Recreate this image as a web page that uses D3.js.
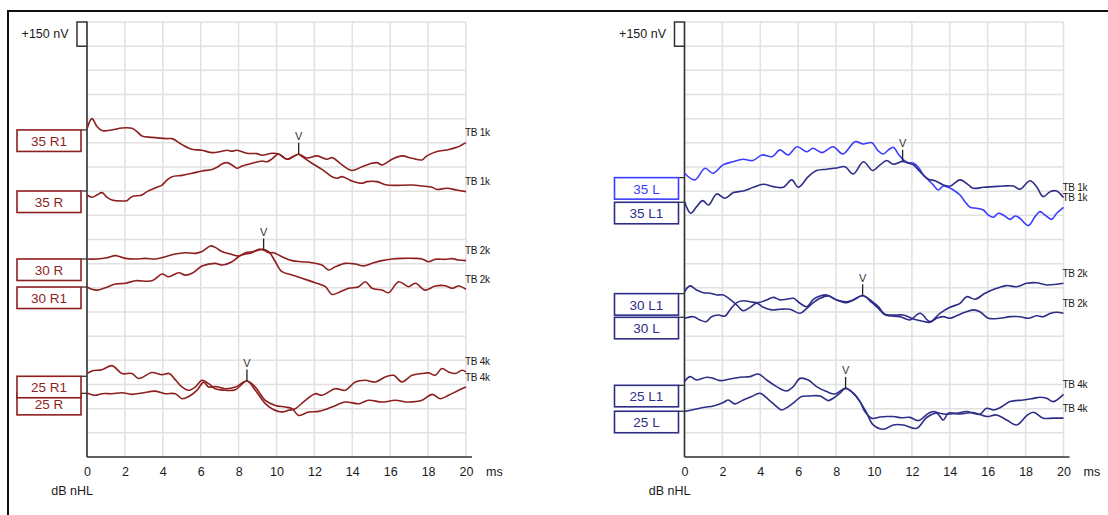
<!DOCTYPE html>
<html>
<head>
<meta charset="utf-8">
<script src="https://cdn.jsdelivr.net/npm/d3@7"></script>
<style>
  body { margin: 0; background: #fff; }
  svg { display: block; }
  text { font-family: "Liberation Sans", Arial, sans-serif; }
</style>
</head>
<body>
<svg id="chart" width="1108" height="515"></svg>
<script>
// ---- ABR recordings: latency (ms) vs amplitude (nV) ----
const xTicks = [0, 2, 4, 6, 8, 10, 12, 14, 16, 18, 20];
const gridStepNv = 150;
const fullScaleNv = 2700;
const scaleBarLabel = "+150 nV";
const xUnit = "ms";
const yUnit = "dB nHL";

// Right ear (each wave: [latency ms, amplitude nV] relative to its own trace offset)
const wave35R1 = [[0,6],[0.26,70],[0.53,21],[0.79,-4],[1.32,0],[1.85,12],[2.37,10],[2.64,-10],[2.9,-37],[3.43,-46],[4.22,-54],[4.49,-54],[5.01,-91],[5.54,-120],[6.07,-126],[6.6,-141],[7.12,-132],[7.39,-126],[7.65,-132],[7.92,-126],[8.44,-145],[8.97,-147],[9.24,-157],[9.76,-145],[10.11,-149],[10.55,-182],[11.17,-151],[11.6,-174],[12.14,-161],[12.67,-182],[12.93,-172],[13.46,-217],[13.98,-252],[14.51,-228],[15.04,-207],[15.3,-203],[15.57,-217],[16.1,-182],[16.62,-161],[17.15,-176],[17.68,-186],[17.94,-161],[18.47,-134],[18.99,-124],[19.52,-108],[20,-79]];
const wave35R = [[0,-25],[0.26,-39],[0.53,-25],[0.79,-10],[1.06,-39],[1.32,-56],[1.85,-62],[2.11,-60],[2.37,-35],[2.9,-25],[3.17,-4],[3.69,23],[3.96,37],[4.22,68],[4.49,89],[5.01,97],[5.54,110],[6.07,124],[6.6,134],[6.86,147],[7.12,168],[7.39,176],[7.65,161],[7.92,141],[8.18,155],[8.71,172],[9.24,186],[9.5,182],[9.76,199],[10.11,230],[10.55,197],[11.17,228],[11.35,213],[11.87,172],[12.4,134],[12.93,89],[13.2,79],[13.46,89],[13.98,62],[14.51,48],[14.78,58],[15.3,58],[15.83,37],[17.15,37],[17.68,31],[18.21,23],[18.47,10],[18.99,17],[19.52,6],[20,-4]];
const wave30R = [[0,0],[0.53,0],[1.06,8],[1.5,21],[2.02,4],[2.55,0],[3.08,4],[3.61,0],[4.13,14],[4.66,31],[5.19,39],[5.72,35],[6.07,46],[6.51,81],[6.77,72],[7.12,46],[7.56,31],[8.0,19],[8.36,31],[8.62,35],[9.06,60],[9.32,56],[9.59,39],[9.85,39],[10.29,14],[10.82,-10],[11.35,-17],[11.87,-23],[12.4,-37],[12.75,-68],[13.1,-48],[13.63,-27],[14.16,-31],[14.6,-43],[15.04,-27],[15.57,-10],[16.1,0],[16.62,4],[17.33,4],[17.68,0],[18.03,-17],[18.38,-2],[18.91,-2],[19.26,2],[19.61,-6],[20,-10]];
const wave30R1 = [[0,0],[0.26,-14],[0.53,-19],[0.97,-4],[1.5,19],[2.02,23],[2.55,39],[3.43,39],[3.96,81],[4.31,64],[4.84,89],[5.19,74],[5.54,85],[6.07,130],[6.77,147],[7.12,137],[7.65,157],[8.0,188],[8.36,213],[8.8,220],[9.24,234],[9.59,220],[9.94,157],[10.29,95],[10.82,75],[11.35,54],[12.05,27],[12.58,2],[12.93,-46],[13.37,-29],[13.81,-8],[14.34,2],[14.69,33],[15.04,-8],[15.57,-19],[15.92,-35],[16.45,33],[16.97,2],[17.33,23],[17.85,-19],[18.38,6],[18.91,8],[19.26,-8],[19.61,6],[20,-14]];
const wave25R1 = [[0,17],[0.26,33],[0.79,41],[1.32,66],[1.85,17],[2.37,17],[2.73,-14],[3.43,23],[3.96,10],[4.34,17],[4.66,-21],[5.01,-66],[5.37,-87],[5.72,-66],[6.07,-25],[6.42,-46],[6.77,-77],[7.3,-87],[7.83,-83],[8.44,-29],[8.88,-87],[9.41,-170],[9.76,-201],[10.29,-221],[10.64,-211],[10.99,-201],[11.52,-149],[12.05,-108],[12.4,-118],[13.1,-77],[13.63,-87],[14.16,-35],[14.69,-25],[15.22,-35],[15.74,-4],[16.18,6],[16.62,-35],[17.15,6],[17.68,17],[18.03,21],[18.38,6],[18.73,48],[19.08,27],[19.43,17],[19.79,37],[20,27]];
const wave25R = [[0,2],[0.44,-12],[0.79,-2],[1.32,-2],[1.85,4],[2.37,-6],[2.9,2],[3.61,14],[4.13,-2],[4.66,-2],[5.01,-33],[5.37,-19],[5.8,19],[6.16,70],[6.42,39],[6.77,43],[7.3,29],[7.83,39],[8.44,77],[8.88,39],[9.41,-43],[9.94,-75],[10.46,-85],[10.82,-95],[11.17,-137],[11.7,-116],[12.23,-112],[12.93,-85],[13.63,-54],[14.34,-64],[14.86,-43],[15.57,-54],[16.27,-43],[16.97,-54],[17.68,-43],[18.21,-6],[18.65,-33],[19.08,-12],[19.61,19],[20,39]];

// Left ear
const wave35L = [[0,27],[0.55,-14],[1.08,58],[1.5,27],[2.03,79],[2.56,99],[3.09,114],[3.61,106],[4.09,141],[4.62,130],[5.04,172],[5.46,141],[5.94,192],[6.46,161],[6.78,182],[7.26,155],[7.84,192],[8.36,147],[9.0,223],[9.42,209],[9.89,217],[10.21,168],[10.49,147],[10.76,172],[11.02,188],[11.28,147],[11.55,110],[11.81,93],[12.08,89],[12.34,64],[12.6,17],[12.87,-14],[13.13,-46],[13.39,-77],[13.66,-52],[13.92,-60],[14.19,-77],[14.54,-108],[14.8,-149],[15.07,-184],[15.42,-190],[15.77,-201],[16.03,-232],[16.3,-246],[16.56,-221],[16.82,-232],[17.18,-259],[17.44,-238],[17.7,-252],[18.14,-298],[18.5,-242],[18.76,-211],[19.02,-232],[19.37,-259],[19.64,-221],[20,-184]];
const wave35L1 = [[0,4],[0.33,-68],[0.64,-27],[0.96,10],[1.26,-17],[1.7,52],[2.14,25],[2.58,60],[3.1,70],[3.63,93],[4.16,112],[4.69,97],[5.22,93],[5.66,139],[6.01,93],[6.53,159],[6.97,197],[7.5,205],[8.03,213],[8.47,221],[8.91,176],[9.44,252],[9.93,197],[10.32,232],[10.67,259],[11.02,236],[11.51,254],[11.73,246],[12.08,232],[12.43,190],[12.87,143],[13.22,134],[13.66,108],[14.01,100],[14.54,139],[14.98,108],[15.24,87],[15.77,93],[16.3,97],[16.82,101],[17.35,101],[17.7,81],[18.23,134],[18.58,97],[18.93,35],[19.29,66],[19.64,70],[20,29]];
const wave30L1 = [[0,12],[0.29,48],[0.64,23],[0.99,6],[1.35,2],[1.7,-8],[2.05,-8],[2.4,-35],[2.75,-70],[3.1,-106],[3.46,-85],[3.81,-60],[4.16,-85],[4.6,-101],[5.04,-97],[5.57,-97],[6.1,-122],[6.45,-91],[6.8,-56],[7.15,-29],[7.59,-14],[8.03,-39],[8.56,-50],[8.91,-39],[9.4,-12],[9.88,-54],[10.23,-91],[10.58,-132],[11.37,-143],[11.9,-163],[12.43,-122],[12.96,-174],[13.48,-122],[14.01,-85],[14.54,-60],[14.89,-19],[15.33,-35],[15.86,2],[16.47,33],[17.0,50],[17.53,43],[18.06,64],[18.58,68],[19.11,54],[20,64]];
const wave30L = [[0,-6],[0.47,4],[0.82,-17],[1.13,-27],[1.43,4],[1.79,14],[2.14,8],[2.4,46],[2.75,91],[3.1,103],[3.46,97],[3.9,91],[4.34,108],[4.69,124],[5.04,108],[5.39,112],[5.75,118],[6.1,87],[6.45,66],[6.8,112],[7.15,132],[7.5,139],[8.03,108],[8.56,91],[8.91,108],[9.4,134],[9.88,101],[10.23,66],[10.58,19],[11.02,14],[11.55,14],[12.07,-10],[12.51,-23],[12.96,-31],[13.3,-6],[13.66,4],[14.01,-6],[14.36,10],[14.8,31],[15.24,46],[15.59,35],[16.03,-6],[16.65,-6],[17.18,4],[17.7,4],[18.14,-6],[18.58,10],[18.93,4],[19.29,23],[19.64,31],[20,25]];
const wave25L1 = [[0,23],[0.29,54],[0.64,33],[1.17,50],[1.52,43],[1.87,29],[2.4,39],[2.93,50],[3.46,54],[3.9,70],[4.34,33],[4.86,-8],[5.39,-35],[5.74,-8],[6.1,43],[6.53,33],[6.97,-8],[7.5,-39],[7.94,-54],[8.5,-19],[8.91,-50],[9.26,-101],[9.52,-163],[9.88,-205],[10.32,-197],[10.67,-194],[11.02,-194],[11.46,-201],[11.9,-199],[12.34,-219],[12.87,-174],[13.13,-163],[13.48,-174],[13.83,-180],[14.36,-174],[14.89,-163],[15.24,-174],[15.59,-180],[15.94,-143],[16.3,-153],[16.65,-139],[17.18,-101],[17.88,-91],[18.41,-81],[18.76,-74],[19.11,-81],[19.46,-101],[20,-56]];
const wave25L = [[0,-2],[0.55,12],[1.08,25],[1.52,33],[2.05,54],[2.31,70],[2.66,46],[3.1,70],[3.54,91],[3.98,112],[4.42,74],[4.86,29],[5.13,8],[5.48,29],[5.83,60],[6.18,91],[6.62,95],[7.15,95],[7.59,66],[7.85,81],[8.2,112],[8.5,143],[8.91,112],[9.26,60],[9.62,-12],[9.96,-85],[10.49,-112],[11.02,-85],[11.55,-85],[12.25,-106],[12.78,-39],[13.31,-12],[13.66,-54],[13.92,-12],[14.54,-17],[15.24,-8],[15.94,-33],[16.47,-23],[17.0,-54],[17.53,-85],[18.06,-27],[18.41,-6],[18.93,-43],[19.46,-43],[20,-43]];

// Trace labels, stacking offsets (nV above the bottom of the scale) and stimulus names
const rightLabels = ["35 R1", "35 R", "30 R", "30 R1", "25 R1", "25 R"];
const rightOffsetsNv = [2030, 1651, 1229, 1055, 501, 395];
const rightStimuli = ["TB 1k", "TB 1k", "TB 2k", "TB 2k", "TB 4k", "TB 4k"];
const rightWaves = [wave35R1, wave35R, wave30R, wave30R1, wave25R1, wave25R];
const rightPeakV = [["35 R1", 11.17], ["30 R", 9.32], ["25 R1", 8.44]];

const leftLabels = ["35 L", "35 L1", "30 L1", "30 L", "25 L1", "25 L"];
const leftOffsetsNv = [1734, 1581, 1014, 867, 445, 284];
const leftStimuli = ["TB 1k", "TB 1k", "TB 2k", "TB 2k", "TB 4k", "TB 4k"];
const leftWaves = [wave35L, wave35L1, wave30L1, wave30L, wave25L1, wave25L];
const leftPeakV = [["35 L1", 11.51], ["30 L", 9.4], ["25 L1", 8.5]];

// ---- drawing ----
const svg = d3.select("#chart");
const FONT = '"Liberation Sans", Arial, sans-serif';

const y = d3.scaleLinear().domain([0, fullScaleNv]).range([457, 22]);

function valueAt(wave, t) {
  const i = d3.bisector(d => d[0]).left(wave, t);
  if (i <= 0) return wave[0][1];
  if (i >= wave.length) return wave[wave.length - 1][1];
  const a = wave[i - 1], b = wave[i];
  return a[1] + (b[1] - a[1]) * (t - a[0]) / (b[0] - a[0]);
}

// outer frame
svg.append("path")
  .attr("d", "M8,515V11H1108")
  .attr("fill", "none").attr("stroke", "#111").attr("stroke-width", 2);

function drawPanel(p) {
  const x = d3.scaleLinear().domain([0, 20]).range([p.x0, p.x0 + 379]);
  const g = svg.append("g");

  // grid
  g.append("g").selectAll("line")
    .data(d3.range(0, fullScaleNv + 1, gridStepNv)).join("line")
    .attr("x1", x(0)).attr("x2", x(20))
    .attr("y1", d => y(d)).attr("y2", d => y(d))
    .attr("stroke", "#e1e1e1").attr("stroke-width", 1.5);
  g.append("g").selectAll("line")
    .data(xTicks).join("line")
    .attr("x1", d => x(d)).attr("x2", d => x(d))
    .attr("y1", y(fullScaleNv)).attr("y2", y(0))
    .attr("stroke", "#e1e1e1").attr("stroke-width", 1.5);

  // x axis labels
  const ax = g.append("g")
    .attr("transform", `translate(0,${y(0)})`)
    .call(d3.axisBottom(x).tickValues(xTicks).tickSize(0).tickPadding(10).tickFormat(d3.format("d")));
  ax.select(".domain").remove();
  ax.selectAll("text")
    .attr("font-family", FONT).attr("font-size", 12.5).attr("fill", "#1a1a1a");

  // axis lines
  g.append("line")
    .attr("x1", x(0)).attr("x2", x(20) + 6)
    .attr("y1", y(0)).attr("y2", y(0))
    .attr("stroke", "#333").attr("stroke-width", 1.6);
  g.append("line")
    .attr("x1", x(0)).attr("x2", x(0))
    .attr("y1", y(fullScaleNv) - 0.5).attr("y2", y(0))
    .attr("stroke", "#333").attr("stroke-width", 1.6);

  // amplitude scale bar
  g.append("path")
    .attr("d", `M${x(0)},${y(fullScaleNv)}H${x(0) - 10}V${y(fullScaleNv - gridStepNv)}H${x(0)}`)
    .attr("fill", "none").attr("stroke", "#333").attr("stroke-width", 1.5);
  g.append("text")
    .attr("x", x(0) - 18.5).attr("y", (y(fullScaleNv) + y(fullScaleNv - gridStepNv)) / 2)
    .attr("dy", "0.35em").attr("text-anchor", "end")
    .attr("font-size", 12.5).attr("fill", "#1a1a1a")
    .text(scaleBarLabel);

  g.append("text")
    .attr("x", x(20) + 20).attr("y", y(0) + 14.5).attr("dy", "0.35em")
    .attr("font-size", 12.5).attr("fill", "#1a1a1a").text(xUnit);
  g.append("text")
    .attr("x", x(0) + 6).attr("y", y(0) + 33.5).attr("dy", "0.35em")
    .attr("text-anchor", "end")
    .attr("font-size", 12.5).attr("fill", "#1a1a1a").text(yUnit);

  const traces = p.labels.map((name, i) => ({
    name, offset: p.offsets[i], stim: p.stimuli[i], wave: p.waves[i], color: p.colors[i]
  }));

  // label boxes, drawn from the bottom up so upper boxes overlay lower ones
  const boxW = 64, boxH = 21.5;
  const boxes = g.append("g");
  traces.slice().reverse().forEach(t => {
    const by = y(t.offset);
    boxes.append("line")
      .attr("x1", x(0) - 6).attr("x2", x(0))
      .attr("y1", by).attr("y2", by)
      .attr("stroke", "#333").attr("stroke-width", 1.3);
    boxes.append("rect")
      .attr("x", x(0) - 6 - boxW).attr("y", by)
      .attr("width", boxW).attr("height", boxH)
      .attr("fill", "#fff").attr("stroke", t.color).attr("stroke-width", 1.6);
    boxes.append("text")
      .attr("x", x(0) - 6 - boxW / 2).attr("y", by + boxH / 2 + 0.5)
      .attr("dy", "0.35em").attr("text-anchor", "middle")
      .attr("font-size", 13.5).attr("fill", t.color)
      .text(t.name);
  });

  // waveforms
  const line = d3.line()
    .x(d => x(d[0]))
    .curve(d3.curveCatmullRom.alpha(0.5));
  traces.forEach(t => {
    g.append("path")
      .datum(t.wave)
      .attr("d", line.y(d => y(t.offset + d[1])))
      .attr("fill", "none").attr("stroke", t.color)
      .attr("stroke-width", 1.6).attr("stroke-linejoin", "round");
  });

  // stimulus names at the trace ends
  traces.forEach(t => {
    const last = t.wave[t.wave.length - 1];
    g.append("text")
      .attr("x", x(last[0]) - 1).attr("y", y(t.offset + last[1]) - 10)
      .attr("dy", "0.35em")
      .attr("font-size", 10).attr("letter-spacing", -0.3).attr("fill", "#1a1a1a")
      .text(t.stim);
  });

  // wave V markers
  p.peaks.forEach(([name, lat]) => {
    const t = traces.find(d => d.name === name);
    const px = x(lat), py = y(t.offset + valueAt(t.wave, lat));
    g.append("line")
      .attr("x1", px).attr("x2", px).attr("y1", py).attr("y2", py - 11.5)
      .attr("stroke", "#222").attr("stroke-width", 1.3);
    g.append("text")
      .attr("x", px).attr("y", py - 18).attr("dy", "0.35em")
      .attr("text-anchor", "middle").attr("font-size", 11).attr("fill", "#333")
      .text("V");
  });
}

const red = "#8e1f1f", navy = "#2e2e88", blue = "#3c3cff";

drawPanel({
  x0: 87,
  labels: rightLabels, offsets: rightOffsetsNv, stimuli: rightStimuli,
  waves: rightWaves, peaks: rightPeakV,
  colors: rightLabels.map(() => red)
});
drawPanel({
  x0: 684.5,
  labels: leftLabels, offsets: leftOffsetsNv, stimuli: leftStimuli,
  waves: leftWaves, peaks: leftPeakV,
  colors: [blue, navy, navy, navy, navy, navy]
});
</script>
</body>
</html>
